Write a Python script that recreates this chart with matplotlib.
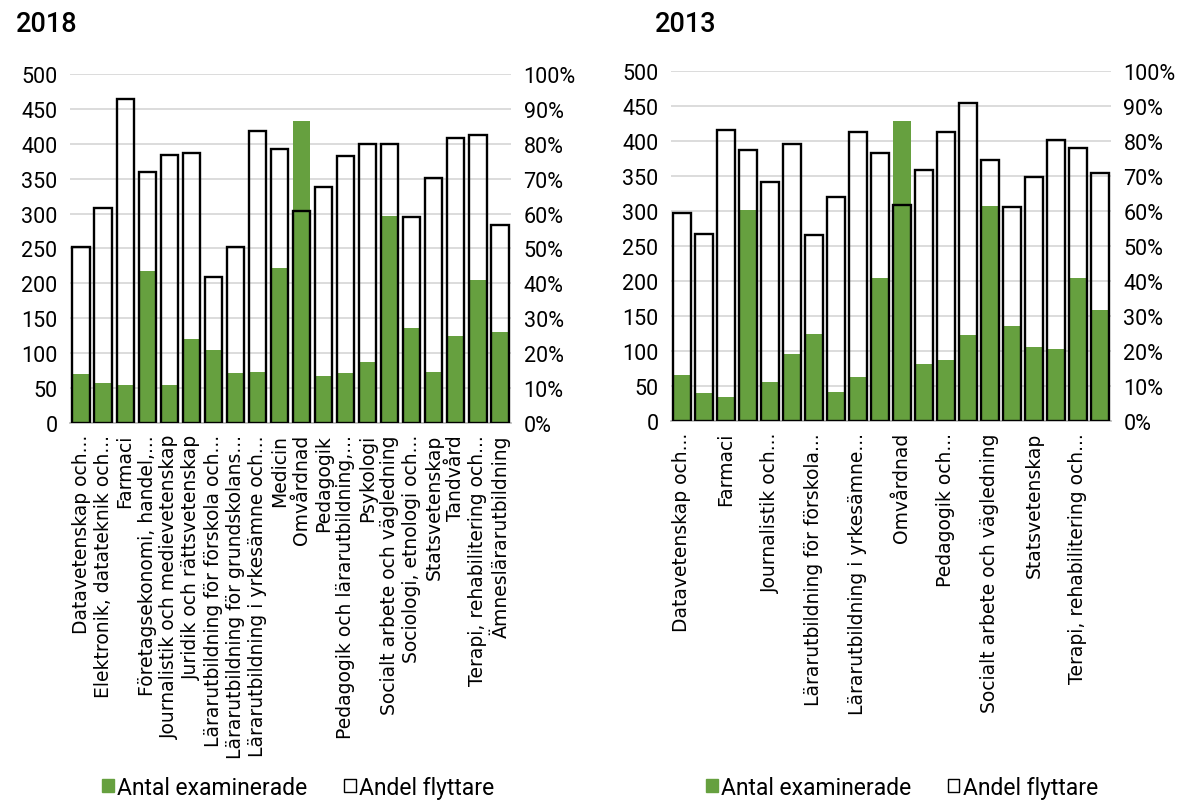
import matplotlib
matplotlib.use('Agg')
import numpy as np
from matplotlib import pyplot as plt
from matplotlib.patches import Patch

# kategorier (samma ordning i båda åren)
labels_2018 = ['Datavetenskap och...', 'Elektronik, datateknik och...', 'Farmaci',
               'Företagsekonomi, handel,...', 'Journalistik och medievetenskap',
               'Juridik och rättsvetenskap', 'Lärarutbildning för förskola och...',
               'Lärarutbildning för grundskolans...', 'Lärarutbildning i yrkesämne och...',
               'Medicin', 'Omvårdnad', 'Pedagogik', 'Pedagogik och lärarutbildning,...',
               'Psykologi', 'Socialt arbete och vägledning', 'Sociologi, etnologi och...',
               'Statsvetenskap', 'Tandvård', 'Terapi, rehabilitering och...',
               'Ämneslärarutbildning']
# 2013 visar bara varannan etikett
labels_2013 = ['Datavetenskap och...', 'Farmaci', 'Journalistik och...',
               'Lärarutbildning för förskola...', 'Lärarutbildning i yrkesämne...',
               'Omvårdnad', 'Pedagogik och...', 'Socialt arbete och vägledning',
               'Statsvetenskap', 'Terapi, rehabilitering och...']

antal_2018 = [70, 58, 55, 218, 55, 120, 104, 72, 73, 222,
              432, 67, 72, 88, 296, 136, 73, 124, 205, 131]
andel_2018 = [0.505, 0.615, 0.928, 0.72, 0.768, 0.775, 0.417, 0.505, 0.838, 0.784,
              0.606, 0.675, 0.766, 0.798, 0.798, 0.589, 0.702, 0.816, 0.825, 0.568]

antal_2013 = [65, 40, 34, 302, 55, 95, 124, 41, 63, 204,
              428, 81, 87, 123, 307, 136, 105, 103, 204, 158]
andel_2013 = [0.595, 0.534, 0.831, 0.775, 0.683, 0.792, 0.531, 0.641, 0.827, 0.766,
              0.617, 0.718, 0.827, 0.91, 0.745, 0.612, 0.698, 0.803, 0.78, 0.709]

green = '#66A03F'
plt.rcParams['font.family'] = ['Roboto', 'DejaVu Sans']

fig = plt.figure(figsize=(11.84, 8.03), dpi=100)


def panel(rect, title, antal, andel, ticks, ticklabels, title_x, leg_x):
    ax = fig.add_axes(rect)
    x = np.arange(len(antal))
    ax.bar(x, antal, width=0.78, color=green, zorder=2)
    ax.set_ylim(0, 500)
    ax.set_xlim(-0.5, len(antal) - 0.5)
    ax.set_yticks(range(0, 501, 50))
    ax.yaxis.grid(True, color='#D9D9D9', linewidth=1.3, zorder=0)
    ax.set_axisbelow(True)
    for s in ['top', 'left', 'right']:
        ax.spines[s].set_visible(False)
    ax.spines['bottom'].set_color('#BFBFBF')
    ax.spines['bottom'].set_linewidth(1.3)
    ax.tick_params(axis='y', length=0, labelsize=15.5, pad=9)
    ax.tick_params(axis='x', length=0, pad=8)
    ax.set_xticks(ticks)
    ax.set_xticklabels(ticklabels, rotation=90, fontsize=13.5,
                       family=['DejaVu Sans'])

    ax2 = ax.twinx()
    ax2.bar(x, andel, width=0.78, facecolor='none', edgecolor='black',
            linewidth=1.7, zorder=3)
    ax2.set_ylim(0, 1)
    ax2.set_yticks(np.arange(0, 1.01, 0.1))
    ax2.set_yticklabels(['%d%%' % round(v * 100) for v in np.arange(0, 1.01, 0.1)])
    ax2.tick_params(axis='y', length=0, labelsize=15.5, pad=9)
    for s in ['top', 'left', 'right', 'bottom']:
        ax2.spines[s].set_visible(False)

    fig.text(title_x, 0.986, title, fontsize=19.5, fontweight='medium', va='top')

    handles = [Patch(facecolor=green, edgecolor=green),
               Patch(facecolor='white', edgecolor='black', linewidth=1.0)]
    fig.legend(handles, ['Antal examinerade', 'Andel flyttare'], loc='center',
               bbox_to_anchor=(leg_x, 0.018), ncol=2, frameon=False, fontsize=16.5,
               handlelength=0.5, handleheight=0.5, handletextpad=0.15,
               columnspacing=1.6)
    return ax


panel([0.0591, 0.472, 0.3725, 0.4346], '2018', antal_2018, andel_2018,
      range(20), labels_2018, 0.013, 0.252)
panel([0.5667, 0.4745, 0.3716, 0.4358], '2013', antal_2013, andel_2013,
      range(0, 20, 2), labels_2013, 0.553, 0.762)

plt.savefig('out.png', dpi=100)
